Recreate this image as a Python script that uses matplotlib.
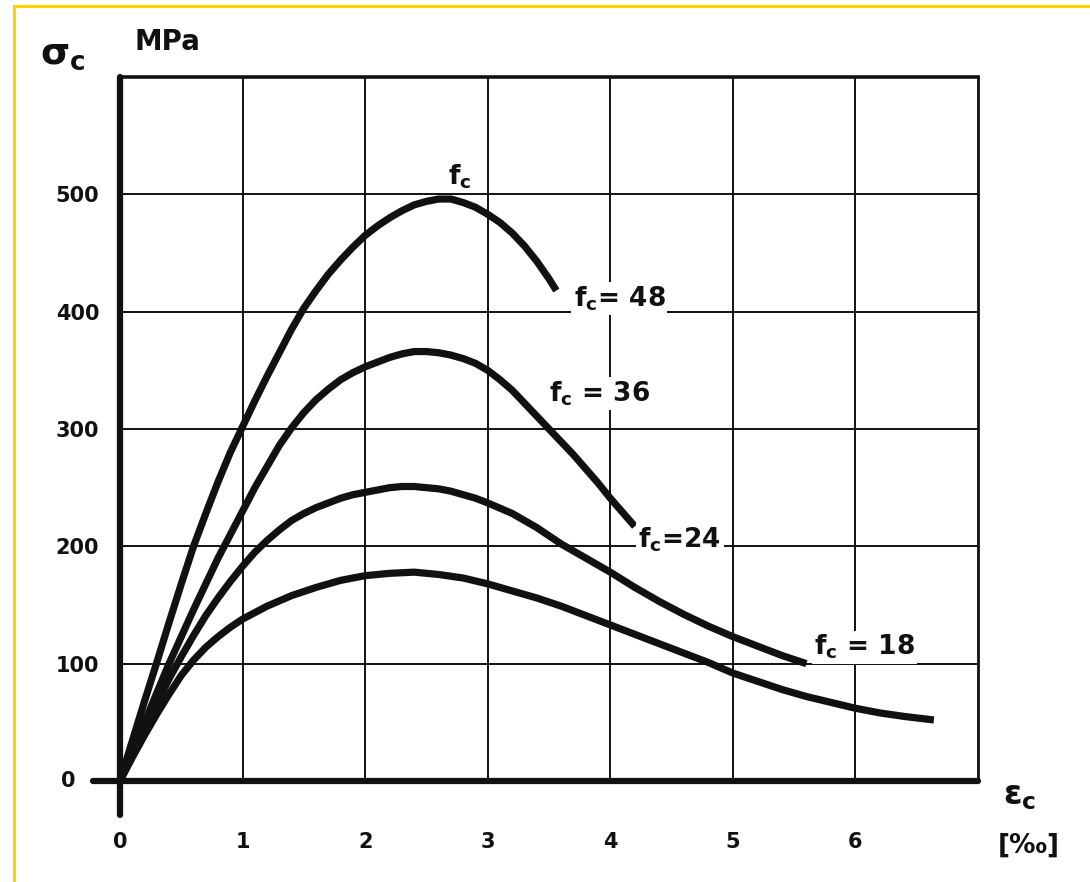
import numpy as np
import matplotlib
matplotlib.use('Agg')
import matplotlib.pyplot as plt
from matplotlib.lines import Line2D

plt.rcParams['font.family'] = 'DejaVu Sans'
plt.rcParams['font.weight'] = 'bold'
plt.rcParams['mathtext.fontset'] = 'dejavusans'
plt.rcParams['mathtext.default'] = 'bf'

ink = '#111111'

# strain in per mille, stress as printed on the axis
eps48 = [0, 0.1, 0.2, 0.3, 0.4, 0.5, 0.6, 0.7, 0.8, 0.9, 1.0, 1.1, 1.2, 1.3, 1.4, 1.5, 1.6, 1.7, 1.8, 1.9,
         2.0, 2.1, 2.2, 2.3, 2.4, 2.5, 2.6, 2.7, 2.8, 2.9, 3.0, 3.1, 3.2, 3.3, 3.4, 3.5, 3.56]
sig48 = [0, 34, 68, 101, 135, 168, 200, 228, 255, 280, 302, 324, 345, 365, 385, 403, 418, 432, 444, 455,
         465, 473, 480, 486, 491, 494, 496, 496, 493, 489, 483, 476, 467, 456, 443, 428, 418]

eps36 = [0, 0.1, 0.2, 0.3, 0.4, 0.5, 0.6, 0.7, 0.8, 0.9, 1.0, 1.1, 1.2, 1.3, 1.4, 1.5, 1.6, 1.7, 1.8, 1.9,
         2.0, 2.1, 2.2, 2.3, 2.4, 2.5, 2.6, 2.7, 2.8, 2.9, 3.0, 3.1, 3.2, 3.3, 3.4, 3.5, 3.6, 3.7, 3.8, 3.9,
         4.0, 4.1, 4.2]
sig36 = [0, 25, 50, 75, 100, 123, 146, 168, 190, 210, 230, 250, 268, 286, 301, 314, 325, 334, 342, 348,
         353, 357, 361, 364, 366, 366, 365, 363, 360, 356, 350, 342, 333, 322, 311, 300, 289, 278, 266, 254,
         241, 229, 217]

eps24 = [0, 0.1, 0.2, 0.3, 0.4, 0.5, 0.6, 0.7, 0.8, 0.9, 1.0, 1.1, 1.2, 1.3, 1.4, 1.5, 1.6, 1.7, 1.8, 1.9,
         2.0, 2.1, 2.2, 2.3, 2.4, 2.5, 2.6, 2.7, 2.8, 2.9, 3.0, 3.2, 3.4, 3.6, 3.8, 4.0, 4.2, 4.4, 4.6, 4.8,
         5.0, 5.2, 5.4, 5.6]
sig24 = [0, 23, 45, 66, 87, 106, 124, 141, 156, 170, 183, 195, 205, 214, 222, 228, 233, 237, 241, 244,
         246, 248, 250, 251, 251, 250, 249, 247, 244, 241, 237, 228, 216, 202, 190, 178, 165, 153, 142, 132,
         123, 115, 107, 100]

eps18 = [0, 0.1, 0.2, 0.3, 0.4, 0.5, 0.6, 0.7, 0.8, 0.9, 1.0, 1.2, 1.4, 1.6, 1.8, 2.0, 2.2, 2.4, 2.6, 2.8,
         3.0, 3.2, 3.4, 3.6, 3.8, 4.0, 4.2, 4.4, 4.6, 4.8, 5.0, 5.2, 5.4, 5.6, 5.8, 6.0, 6.2, 6.4, 6.64]
sig18 = [0, 20, 39, 57, 74, 90, 103, 114, 123, 131, 138, 149, 158, 165, 171, 175, 177, 178, 176, 173,
         168, 162, 156, 149, 141, 133, 125, 117, 109, 101, 92, 85, 78, 72, 67, 62, 58, 55, 52]

xticks = [0, 1, 2, 3, 4, 5, 6]
yticks = [100, 200, 300, 400, 500]

fig = plt.figure(figsize=(10.9, 8.82), dpi=100)
ax = fig.add_axes([120/1090, 101/882, 858/1090, 704/882])
ax.set_xlim(0, 7)
ax.set_ylim(0, 600)

# thin grid inside the frame
for xv in xticks[1:]:
    ax.plot([xv, xv], [0, 600], color=ink, lw=1.4, zorder=1)
for yv in yticks:
    ax.plot([0, 7], [yv, yv], color=ink, lw=1.4, zorder=1)

for s in ax.spines.values():
    s.set_visible(False)
ax.plot([0, 7], [600, 600], color=ink, lw=2.6, zorder=2, clip_on=False)
ax.plot([7, 7], [0, 600], color=ink, lw=2.0, zorder=2, clip_on=False)
ax.plot([-0.22, 7], [0, 0], color=ink, lw=4.5, zorder=3, clip_on=False, solid_capstyle='round')
ax.plot([0, 0], [-29, 600], color=ink, lw=4.5, zorder=3, clip_on=False, solid_capstyle='round')

for ex, sy in [(eps48, sig48), (eps36, sig36), (eps24, sig24), (eps18, sig18)]:
    ax.plot(ex, sy, color=ink, lw=5.2, zorder=4, solid_capstyle='butt', solid_joinstyle='round')

ax.set_xticks(xticks)
ax.set_yticks(yticks)
ax.set_xticklabels([str(v) for v in xticks])
ax.set_yticklabels([str(v) for v in yticks])
ax.tick_params(axis='both', length=0, labelsize=15, colors=ink)
ax.tick_params(axis='x', pad=37)
ax.tick_params(axis='y', pad=15)
ax.text(-0.36, 0, '0', fontsize=15, color=ink, ha='right', va='center', clip_on=False)

box = dict(facecolor='white', edgecolor='none', pad=1.5)
lab = dict(color=ink, fontsize=19, ha='left', va='center', zorder=5)
ax.text(2.68, 515, r'$f_c$', **lab)
ax.text(3.70, 411, r'$f_c$' + '= 48', bbox=box, **lab)
ax.text(3.50, 330, r'$f_c$' + ' = 36', bbox=box, **lab)
ax.text(4.23, 206, r'$f_c$' + '=24', bbox=box, **lab)
ax.text(5.66, 114, r'$f_c$' + ' = 18', bbox=box, **lab)

ax.text(-0.65, 620, r'$\sigma_c$', fontsize=27, color=ink, ha='left', va='center', clip_on=False)
ax.text(0.12, 630, 'MPa', fontsize=20, color=ink, ha='left', va='center', clip_on=False)
ax.text(7.2, -12, r'$\varepsilon_c$', fontsize=24, color=ink, ha='left', va='center', clip_on=False)
ax.text(7.16, -55, '[‰]', fontsize=19, color=ink, ha='left', va='center', clip_on=False)

# yellow frame of the scan
gold = '#FFD200'
fig.add_artist(Line2D([14/1090, 14/1090], [0, 1 - 6/882], color=gold, lw=2.2))
fig.add_artist(Line2D([14/1090, 1], [1 - 6/882, 1 - 6/882], color=gold, lw=2.2))

fig.savefig('out.png', dpi=100, facecolor='white')
